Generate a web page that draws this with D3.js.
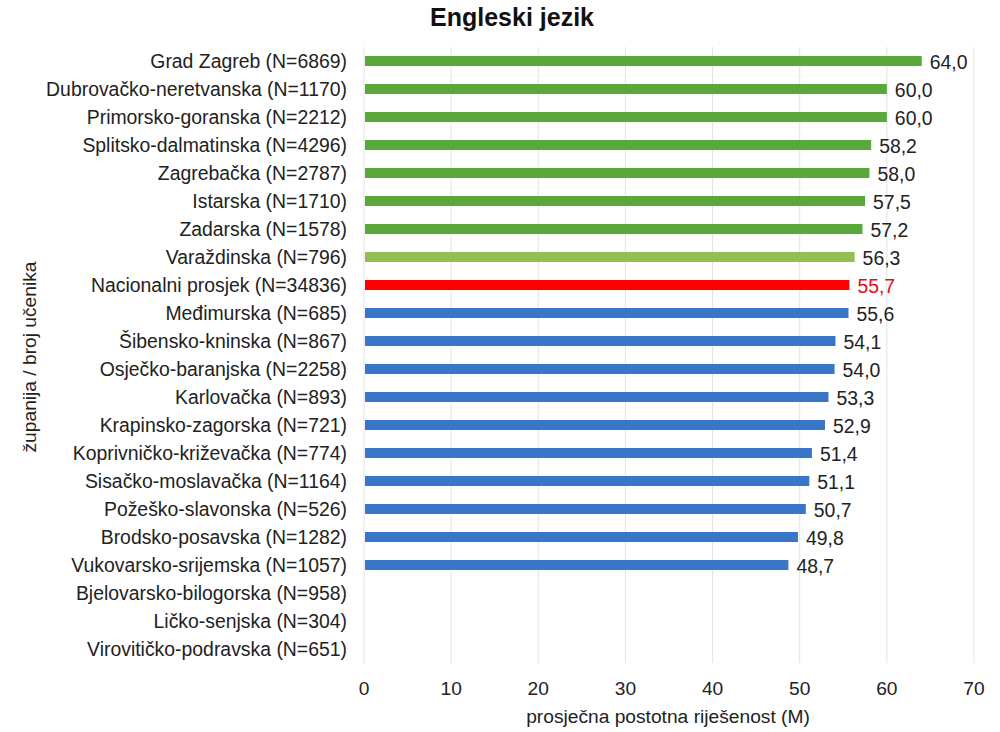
<!DOCTYPE html>
<html>
<head>
<meta charset="utf-8">
<script src="https://cdn.jsdelivr.net/npm/d3@7"></script>
<style>
  body { margin: 0; background: #fff; }
  text { font-family: "Liberation Sans", Arial, sans-serif; }
</style>
</head>
<body>
<div id="chart"></div>
<script>
// Data
const counties = [
  'Grad Zagreb (N=6869)', 'Dubrovačko-neretvanska (N=1170)', 'Primorsko-goranska (N=2212)',
  'Splitsko-dalmatinska (N=4296)', 'Zagrebačka (N=2787)', 'Istarska (N=1710)',
  'Zadarska (N=1578)', 'Varaždinska (N=796)', 'Nacionalni prosjek (N=34836)',
  'Međimurska (N=685)', 'Šibensko-kninska (N=867)', 'Osječko-baranjska (N=2258)',
  'Karlovačka (N=893)', 'Krapinsko-zagorska (N=721)', 'Koprivničko-križevačka (N=774)',
  'Sisačko-moslavačka (N=1164)', 'Požeško-slavonska (N=526)', 'Brodsko-posavska (N=1282)',
  'Vukovarsko-srijemska (N=1057)', 'Bjelovarsko-bilogorska (N=958)', 'Ličko-senjska (N=304)',
  'Virovitičko-podravska (N=651)'
];
const scores = [64.0, 60.0, 60.0, 58.2, 58.0, 57.5, 57.2, 56.3, 55.7, 55.6, 54.1, 54.0,
  53.3, 52.9, 51.4, 51.1, 50.7, 49.8, 48.7, null, null, null];
const groups = ['above', 'above', 'above', 'above', 'above', 'above', 'above', 'near',
  'national', 'below', 'below', 'below', 'below', 'below', 'below', 'below', 'below',
  'below', 'below', 'none', 'none', 'none'];
const xTicks = [0, 10, 20, 30, 40, 50, 60, 70];

const colors = { above: '#5aa839', near: '#92bf4f', national: '#ff0000', below: '#3a76c8' };

const width = 1000, height = 732;
const margin = { top: 47, right: 26, bottom: 69, left: 364 };
const fontSize = 19.4;
const axisFontSize = 19.2;

const svg = d3.select('#chart').append('svg')
  .attr('width', width)
  .attr('height', height);

const x = d3.scaleLinear()
  .domain([0, 70])
  .range([margin.left, width - margin.right]);

const y = d3.scaleBand()
  .domain(counties)
  .range([margin.top, height - margin.bottom]);

// Gridlines
svg.append('g')
  .selectAll('line')
  .data(xTicks)
  .join('line')
    .attr('x1', d => x(d))
    .attr('x2', d => x(d))
    .attr('y1', margin.top)
    .attr('y2', height - margin.bottom)
    .attr('stroke', '#e3e3e3')
    .attr('stroke-width', 1);

// Title
svg.append('text')
  .attr('x', 512)
  .attr('y', 26)
  .attr('text-anchor', 'middle')
  .attr('font-size', 25)
  .attr('font-weight', 'bold')
  .attr('fill', '#111')
  .text('Engleski jezik');

// Category labels
svg.append('g')
  .selectAll('text')
  .data(counties)
  .join('text')
    .attr('x', 347)
    .attr('y', d => y(d) + y.bandwidth() / 2)
    .attr('dy', '0.36em')
    .attr('text-anchor', 'end')
    .attr('font-size', fontSize)
    .attr('fill', '#222')
    .text(d => d);

const rows = counties.map((c, i) => ({ county: c, value: scores[i], group: groups[i] }))
  .filter(d => d.value !== null);

const barH = 10;

// Bars
svg.append('g')
  .selectAll('rect')
  .data(rows)
  .join('rect')
    .attr('x', x(0) + 1)
    .attr('y', d => y(d.county) + y.bandwidth() / 2 - barH / 2)
    .attr('width', d => x(d.value) - x(0) - 1)
    .attr('height', barH)
    .attr('fill', d => colors[d.group]);

// Value labels
svg.append('g')
  .selectAll('text')
  .data(rows)
  .join('text')
    .attr('x', d => x(d.value) + 8)
    .attr('y', d => y(d.county) + y.bandwidth() / 2)
    .attr('dy', '0.4em')
    .attr('font-size', fontSize)
    .attr('fill', d => d.group === 'national' ? '#e01010' : '#222')
    .text(d => d.value.toFixed(1).replace('.', ','));

// X axis tick labels
svg.append('g')
  .selectAll('text')
  .data(xTicks)
  .join('text')
    .attr('x', d => x(d))
    .attr('y', 695)
    .attr('text-anchor', 'middle')
    .attr('font-size', axisFontSize)
    .attr('fill', '#222')
    .text(d => d);

// Axis titles
svg.append('text')
  .attr('x', 668)
  .attr('y', 723)
  .attr('text-anchor', 'middle')
  .attr('font-size', axisFontSize)
  .attr('fill', '#222')
  .text('prosječna postotna riješenost (M)');

svg.append('text')
  .attr('transform', 'translate(36,357) rotate(-90)')
  .attr('text-anchor', 'middle')
  .attr('font-size', axisFontSize)
  .attr('fill', '#222')
  .text('županija / broj učenika');
</script>
</body>
</html>
